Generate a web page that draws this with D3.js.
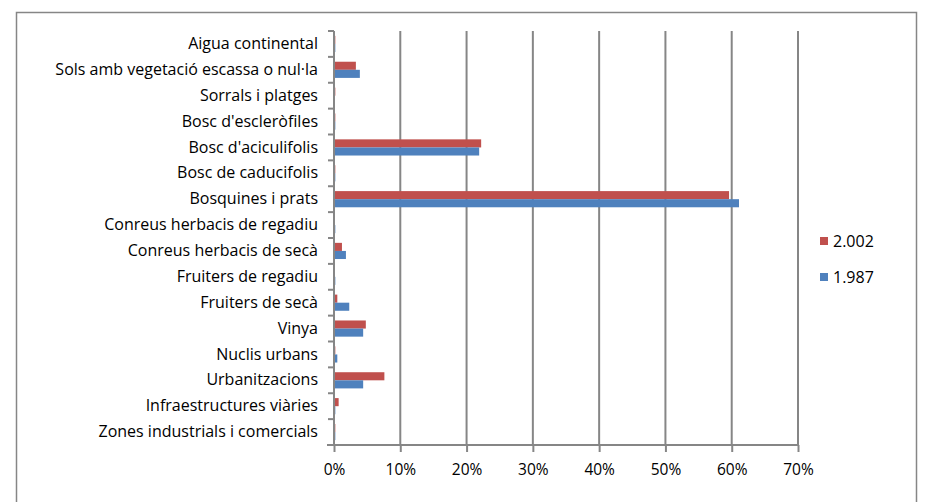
<!DOCTYPE html>
<html>
<head>
<meta charset="utf-8">
<script src="https://cdn.jsdelivr.net/npm/d3@7"></script>
<style>
  body { margin: 0; background: #fff; }
  text { font-family: "Open Sans", "DejaVu Sans", sans-serif; fill: #000; }
</style>
</head>
<body>
<svg id="chart" width="931" height="502"></svg>
<script>
// categories, top to bottom
var categories = [
  "Aigua continental",
  "Sols amb vegetació escassa o nul·la",
  "Sorrals i platges",
  "Bosc d'escleròfiles",
  "Bosc d'aciculifolis",
  "Bosc de caducifolis",
  "Bosquines i prats",
  "Conreus herbacis de regadiu",
  "Conreus herbacis de secà",
  "Fruiters de regadiu",
  "Fruiters de secà",
  "Vinya",
  "Nuclis urbans",
  "Urbanitzacions",
  "Infraestructures viàries",
  "Zones industrials i comercials"
];
var seriesNames = ["2.002", "1.987"];
var values2002 = [0.2, 3.3, 0.2, 0.2, 22.2, 0.2, 59.6, 0.0, 1.2, 0.0, 0.5, 4.8, 0.2, 7.6, 0.7, 0.2];
var values1987 = [0.2, 3.9, 0.0, 0.2, 21.9, 0.2, 61.1, 0.2, 1.8, 0.2, 2.3, 4.4, 0.5, 4.4, 0.2, 0.2];
var xTicks = [0, 10, 20, 30, 40, 50, 60, 70];
var colors = ["#C0504D", "#4F81BD"];

var svg = d3.select("#chart"),
    margin = { top: 31, right: 133, bottom: 57, left: 334 },
    width = +svg.attr("width"),
    height = +svg.attr("height");

var grey = "#868686";

// outer frame
svg.append("rect")
  .attr("x", 16.5).attr("y", 12.5)
  .attr("width", 900).attr("height", 500)
  .attr("fill", "none").attr("stroke", grey).attr("stroke-width", 1.5);

var x = d3.scaleLinear()
  .domain([0, 70])
  .range([margin.left, width - margin.right]);

var y = d3.scaleBand()
  .domain(categories)
  .range([margin.top, height - margin.bottom]);

var inner = d3.scaleBand()
  .domain(seriesNames)
  .range([0, y.bandwidth()])
  .paddingOuter(0.6)
  .paddingInner(0);

// gridlines
svg.append("g")
  .selectAll("line")
  .data(xTicks.slice(1))
  .join("line")
  .attr("x1", d => x(d)).attr("x2", d => x(d))
  .attr("y1", margin.top).attr("y2", height - margin.bottom)
  .attr("stroke", grey).attr("stroke-width", 2);

// bars
var data = categories.map((c, i) => ({ cat: c, vals: [values2002[i], values1987[i]] }));
var groups = svg.append("g")
  .selectAll("g")
  .data(data)
  .join("g")
  .attr("transform", d => "translate(0," + y(d.cat) + ")");

groups.selectAll("rect")
  .data(d => d.vals.map((v, j) => ({ name: seriesNames[j], v: v, j: j })))
  .join("rect")
  .attr("x", x(0))
  .attr("y", d => inner(d.name))
  .attr("width", d => Math.max(0, x(d.v) - x(0)))
  .attr("height", inner.bandwidth())
  .attr("fill", d => colors[d.j]);

// x axis
var xAxis = svg.append("g")
  .attr("transform", "translate(0," + (height - margin.bottom) + ")")
  .call(d3.axisBottom(x).tickValues(xTicks).tickFormat(d => d + "%").tickSize(7).tickPadding(12));
xAxis.select(".domain").attr("stroke", grey).attr("stroke-width", 2).attr("d", "M" + (x(0) - 7) + ",0H" + x(70));
xAxis.selectAll(".tick line").attr("stroke", grey).attr("stroke-width", 2);
xAxis.selectAll(".tick text").style("font-size", "15.5px").style("font-family", "Open Sans");

// y axis
var yAxis = svg.append("g")
  .attr("transform", "translate(" + margin.left + ",0)")
  .call(d3.axisLeft(y).tickSize(0).tickPadding(16));
yAxis.select(".domain").attr("stroke", grey).attr("stroke-width", 2)
  .attr("d", "M0," + margin.top + "V" + (height - margin.bottom));
yAxis.selectAll(".tick text").style("font-size", "16px").style("font-family", "Open Sans");

// category boundary ticks
yAxis.append("g")
  .selectAll("line")
  .data(categories)
  .join("line")
  .attr("x1", -6).attr("x2", 0)
  .attr("y1", d => y(d)).attr("y2", d => y(d))
  .attr("stroke", grey).attr("stroke-width", 2);

// legend
var legend = svg.append("g")
  .selectAll("g")
  .data(seriesNames)
  .join("g")
  .attr("transform", (d, i) => "translate(820," + (237 + i * 36) + ")");
legend.append("rect")
  .attr("width", 8).attr("height", 8)
  .attr("fill", (d, i) => colors[i]);
legend.append("text")
  .attr("x", 13).attr("y", 4).attr("dy", "0.35em")
  .style("font-size", "16px")
  .text(d => d);
</script>
</body>
</html>
